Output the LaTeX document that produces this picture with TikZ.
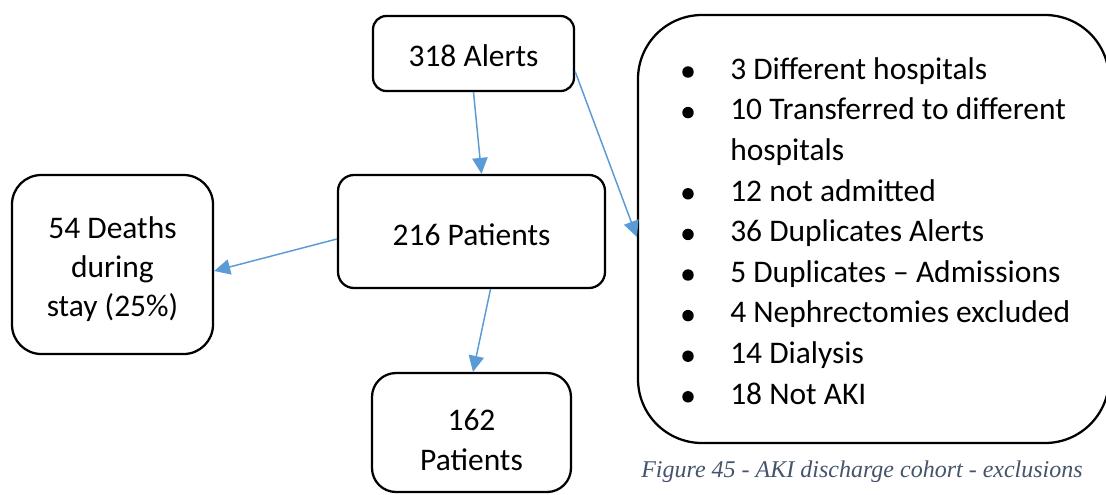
\documentclass[tikz,border=0pt]{standalone}
\usepackage{fontspec}
\setmainfont{Carlito}
\newfontfamily\capfont{Liberation Serif}
\usetikzlibrary{arrows.meta,calc}
\definecolor{flowblue}{HTML}{5B9BD5}
\definecolor{captiongray}{HTML}{44546A}

\begin{document}
\begin{tikzpicture}[x=0.75pt,y=-0.75pt,
  box/.style={draw, line width=1.7pt, fill=white, align=center, inner sep=0pt,
    font=\fontsize{23.6}{29.3}\selectfont},
  boxtext/.style={align=center, inner sep=0pt, font=\fontsize{23.6}{29.3}\selectfont},
  flow/.style={draw=flowblue, line width=1.1pt,
    -{Triangle[length=12pt,width=11.5pt]}, color=flowblue},
  item/.style={anchor=base west, inner sep=0pt, font=\fontsize{23.6}{29.3}\selectfont},
  dot/.style={circle, fill=black, inner sep=0pt, minimum size=8.6pt},
  caption/.style={anchor=base west, inner sep=0pt, text=captiongray,
    font=\capfont\itshape\fontsize{18}{22}\selectfont}]
\useasboundingbox (0,0) rectangle (1106,494);
\clip (0,0) rectangle (1106,494);

% cohort boxes
\node[box, rounded corners=10pt, minimum width={201*0.75pt}, minimum height={75*0.75pt}]
  (alerts) at (473.5,53.5) {};
\node[boxtext] (alertstext) at (473.5,55.5) {318 Alerts};
\node[box, rounded corners=12pt, minimum width={267*0.75pt}, minimum height={113*0.75pt}]
  (patients) at (471.5,231.5) {};
\node[boxtext] (patientstext) at (471.5,234.5) {216 Patients};
\node[box, rounded corners=22pt, minimum width={201*0.75pt}, minimum height={179*0.75pt}]
  (deaths) at (112.5,264.5) {};
\node[boxtext] (deathstext) at (112.5,269) {54 Deaths\\during\\stay (25\%)};
\node[box, rounded corners=18pt, minimum width={199*0.75pt}, minimum height={119*0.75pt}]
  (result) at (471.5,432.5) {};
\node[boxtext] (resulttext) at (471.5,440) {162\\Patients};

% exclusions box
\node[box, rounded corners=48pt, minimum width={471*0.75pt}, minimum height={428*0.75pt}]
  (excl) at (873.5,229) {};

% exclusion list
\foreach \name/\txt/\k in {l1/3 Different hospitals/0,
                            l2/10 Transferred to different/1,
                            l3/hospitals/2,
                            l4/12 not admitted/3,
                            l5/36 Duplicates Alerts/4,
                            l6/5 Duplicates – Admissions/5,
                            l7/4 Nephrectomies excluded/6,
                            l8/14 Dialysis/7,
                            l9/18 Not AKI/8}
  \node[item] (\name) at (730,{79.3+40.6*\k}) {\txt};
\foreach \k in {0,1,3,4,5,6,7,8}
  \node[dot] (b\k) at (688,{72+40.6*\k}) {};

% connectors
\draw[flow] (alerts.south) -- ($(patients.north)+(10,0)$);
\draw[flow] ($(alerts.east)+(0,18)$) -- ($(excl.west)+(0,8)$);
\draw[flow] ($(patients.west)+(0,7.5)$) -- ($(deaths.east)+(0,6.5)$);
\draw[flow] ($(patients.south)+(19,0)$) -- ($(result.north)+(1.5,0)$);

% caption
\node[caption] (cap) at (641,477) {Figure 45 - AKI discharge cohort - exclusions};
\end{tikzpicture}
\end{document}
